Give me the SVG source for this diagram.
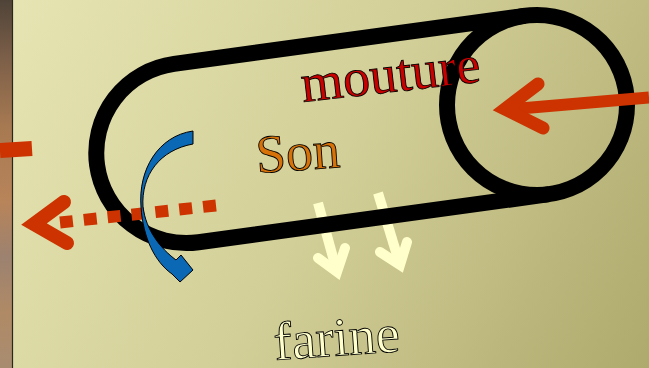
<svg xmlns="http://www.w3.org/2000/svg" width="649" height="368" viewBox="0 0 649 368">
  <defs>
    <linearGradient id="panel" gradientUnits="userSpaceOnUse" x1="0" y1="0" x2="649" y2="368">
      <stop offset="0" stop-color="#e7e5b3"/>
      <stop offset="0.5" stop-color="#d2cf98"/>
      <stop offset="1" stop-color="#aea96c"/>
    </linearGradient>
    <linearGradient id="wood" x1="0" y1="0" x2="0" y2="1">
      <stop offset="0" stop-color="#4f4338"/>
      <stop offset="0.15" stop-color="#7a5e48"/>
      <stop offset="0.35" stop-color="#a87a52"/>
      <stop offset="0.55" stop-color="#b8845a"/>
      <stop offset="0.7" stop-color="#9c8270"/>
      <stop offset="0.85" stop-color="#b08a66"/>
      <stop offset="1" stop-color="#a88c70"/>
    </linearGradient>
    <!-- hides the flour arrows where the mill outline passes over them -->
    <mask id="behindMill" maskUnits="userSpaceOnUse" x="0" y="0" width="649" height="368">
      <rect width="649" height="368" fill="#fff"/>
      <path d="M537,15 H183 A90 90 0 0 0 183,195 H537" transform="rotate(-7.8 537 105)" fill="none" stroke="#000" stroke-width="16"/>
    </mask>
  </defs>
  <style>
    .outline { fill: none; stroke: #000; stroke-width: 16; }
    .label { font-family: "Liberation Serif", "Times New Roman", serif; font-size: 54px; stroke: #000; stroke-width: 0.9; }
    .red { fill: none; stroke: #cc3300; }
    .flour { fill: none; stroke: #ffffcc; stroke-width: 10; }
  </style>

  <!-- backdrop -->
  <rect x="0" y="0" width="649" height="368" fill="url(#panel)"/>
  <rect x="0" y="0" width="12.5" height="368" fill="url(#wood)"/>
  <line x1="12.5" y1="0" x2="12.5" y2="368" stroke="#2a2620" stroke-width="1.2"/>

  <!-- flour falling out of the mill, partly behind it -->
  <g id="connectors-flour" mask="url(#behindMill)">
    <path class="flour" d="M318,203 L337,272"/>
    <path class="flour" d="M318,258 L337,272 L345,248" stroke-linecap="round" stroke-linejoin="miter"/>
    <path class="flour" d="M378,193 L400,265"/>
    <path class="flour" d="M380,252 L400,265 L407,242" stroke-linecap="round" stroke-linejoin="miter"/>
  </g>

  <!-- the mill body and its roller -->
  <g id="mill">
    <path class="outline" d="M537,15 H183 A90 90 0 0 0 183,195 H537" transform="rotate(-7.8 537 105)"/>
  </g>
  <g id="roller">
    <circle class="outline" cx="537" cy="105" r="90"/>
  </g>

  <g id="label-mouture">
    <text class="label" fill="#c80000" transform="translate(303 102) rotate(-6.5)">mouture</text>
  </g>
  <g id="label-son">
    <text class="label" fill="#d67208" transform="translate(257 173) rotate(-4)">Son</text>
  </g>
  <g id="label-farine">
    <text class="label" fill="#ffffcc" transform="translate(275 360) rotate(-4)">farine</text>
  </g>

  <g id="connectors">
    <!-- grain entering the roller -->
    <path class="red" d="M649,97.5 L508,109.5" stroke-width="12"/>
    <path class="red" d="M538,84 L505,109 L543,128" stroke-width="13" stroke-linecap="round" stroke-linejoin="miter" stroke-miterlimit="10"/>
    <path class="red" d="M0,150.5 L32,148.5" stroke-width="15"/>
    <!-- bran leaving the mill -->
    <path class="red" d="M216,205.5 L60,222.5" stroke-width="12" stroke-dasharray="13 11"/>
    <path class="red" d="M64,202 L34,224 L67,243" stroke-width="14" stroke-linecap="round" stroke-linejoin="miter" stroke-miterlimit="10"/>
    <!-- bran recirculation -->
    <path d="M193,131 C158,136 138,170 141,207 C143,238 155,262 172,274 L180,282 L193,270 L181,255 L176,260 C160,248 146,230 143,207 C141,175 160,150 193,144 Z" fill="#0a68b4" stroke="#000" stroke-width="1" stroke-linejoin="miter"/>
  </g>
</svg>
